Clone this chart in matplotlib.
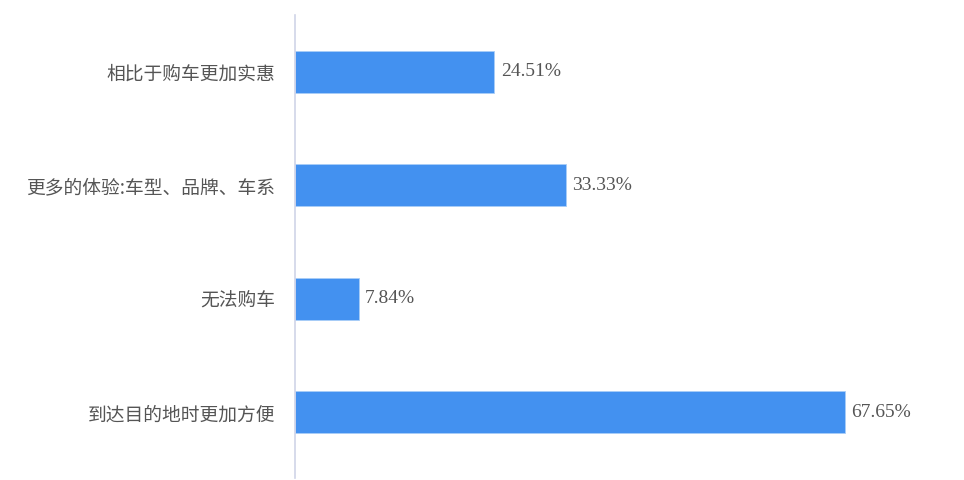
import matplotlib
matplotlib.use('Agg')
import matplotlib.pyplot as plt

categories = ['到达目的地时更加方便', '无法购车', '更多的体验:车型、品牌、车系', '相比于购车更加实惠']
values = [67.65, 7.84, 33.33, 24.51]
labels = ['67.65%', '7.84%', '33.33%', '24.51%']

plt.rcParams['font.family'] = ['Noto Sans CJK SC', 'DejaVu Sans']

fig = plt.figure(figsize=(9.64, 4.8), dpi=100)
ax = fig.add_axes([295 / 964, 2 / 480, 650 / 964, 463 / 480])

pos = list(range(len(categories)))
ax.barh(pos, values, height=0.37, color='#4391F0', edgecolor='#A9CDF7', linewidth=0.6)

for p, v, t in zip(pos, values, labels):
    ax.text(v + 0.8, p, t, va='center', ha='left', fontsize=14,
            family='Liberation Serif', color='#555555')

ax.set_yticks(pos)
ax.set_yticklabels(categories, fontsize=13.5, color='#555555')
ax.tick_params(axis='y', length=0, pad=14)
ax.set_xticks([])
ax.set_xlim(0, 80)
ax.set_ylim(-0.58, 3.5)

for s in ['top', 'right', 'bottom']:
    ax.spines[s].set_visible(False)
ax.spines['left'].set_color('#D0D4E8')
ax.spines['left'].set_linewidth(1.2)

fig.savefig('out.png', dpi=100)
